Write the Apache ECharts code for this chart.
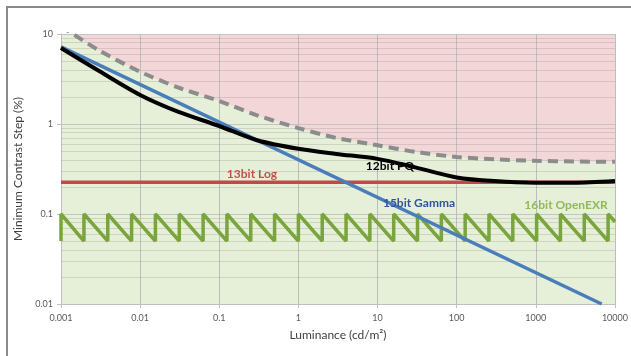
<!DOCTYPE html>
<html>
<head>
<meta charset="utf-8">
<script src="https://cdn.jsdelivr.net/npm/echarts@6/dist/echarts.min.js"></script>
<style>
html,body{margin:0;padding:0;background:#fff;}
#c{width:631px;height:356px;}
</style>
</head>
<body>
<div id="c"></div>
<script>
// ---- data ----
const xTickLabels = ['0.001','0.01','0.1','1','10','100','1000','10000'];
const yTickLabels = ['0.01','0.1','1','10'];
const yMinorLines = [0.02,0.03,0.04,0.05,0.06,0.07,0.08,0.09,0.2,0.3,0.4,0.5,0.6,0.7,0.8,0.9,2,3,4,5,6,7,8,9];

// dashed threshold curve (upper, gray)
const thresholdX = [0.001, 0.003, 0.01, 0.03, 0.1, 0.3, 1, 3, 10, 30, 100, 300, 1000, 3000, 10000];
const thresholdY = [12.2, 6.6, 3.8, 2.55, 1.8, 1.25, 0.9, 0.7, 0.58, 0.49, 0.43, 0.405, 0.39, 0.383, 0.38];

// 12bit PQ
const pqX = [0.001, 0.003, 0.01, 0.03, 0.1, 0.3, 1, 3, 10, 30, 100, 300, 1000, 3000, 10000];
const pqY = [7.0, 3.9, 2.1, 1.37, 0.95, 0.66, 0.53, 0.465, 0.41, 0.33, 0.255, 0.232, 0.223, 0.223, 0.233];

// 15bit Gamma (straight line on log-log)
const gammaX = [0.001, 6800];
const gammaY = [7.2, 0.01];

// 13bit Log (flat)
const logX = [0.001, 10000];
const logY = [0.225, 0.225];

// 16bit OpenEXR sawtooth: jump positions, top / bottom values, final partial value
const exrJumps = [0.001, 0.00195, 0.0039, 0.0078, 0.0156, 0.03125, 0.0625, 0.125, 0.25, 0.5, 1, 2, 4, 8, 16, 32, 64, 128, 256, 512, 1024, 2048, 4096, 8192];
const exrTop = 0.1;
const exrBottom = 0.05;
const exrEnd = [10000, 0.082];

// ---- build ----
function pairs(xs, ys){ return xs.map((x,i)=>[x, ys[i]]); }
const exrData = [];
exrJumps.forEach((x)=>{
  exrData.push([x, exrBottom]);
  exrData.push([x, exrTop]);
});
exrData.push(exrEnd);

const font = 'Lato, "Open Sans", sans-serif';
const chart = echarts.init(document.getElementById('c'), null, {renderer:'canvas'});

function xFmt(v){ const i = Math.round(Math.log10(v)) + 3; return xTickLabels[i] || ''; }
function yFmt(v){ const i = Math.round(Math.log10(v)) + 2; return yTickLabels[i] || ''; }

const option = {
  animation:false,
  backgroundColor:'#ffffff',
  grid:{left:61, right:14, top:34, bottom:52, show:true, backgroundColor:'#e6efd8', borderWidth:0},
  xAxis:{
    type:'log', logBase:10, min:0.001, max:10000, z:3,
    axisLine:{show:true, lineStyle:{color:'#bfbfbf', width:1}},
    axisTick:{show:true, length:4, lineStyle:{color:'#bfbfbf'}},
    axisLabel:{formatter:xFmt, color:'#595959', fontSize:9, fontFamily:font, margin:10},
    splitLine:{show:true, lineStyle:{color:'#bdbdbd', width:1}},
    name:'Luminance (cd/m²)', nameLocation:'middle', nameGap:25,
    nameTextStyle:{color:'#404040', fontSize:12, fontFamily:font}
  },
  yAxis:{
    type:'log', logBase:10, min:0.01, max:10, z:3,
    axisLine:{show:true, lineStyle:{color:'#bfbfbf', width:1}},
    axisTick:{show:true, length:4, lineStyle:{color:'#bfbfbf'}},
    axisLabel:{formatter:yFmt, color:'#595959', fontSize:9, fontFamily:font, margin:8},
    splitLine:{show:true, lineStyle:{color:'#c4c4c4', width:1}},
    name:'Minimum Contrast Step (%)', nameLocation:'middle', nameGap:31, nameRotate:90,
    nameTextStyle:{color:'#404040', fontSize:12, fontFamily:font}
  },
  series:[
    { // pink region above threshold
      type:'line', data:pairs(thresholdX, thresholdY), z:1, silent:true,
      symbol:'none', smooth:0.25, lineStyle:{opacity:0, width:0},
      areaStyle:{color:'#f2d6d8', opacity:1, origin:'end'}
    },
    { // minor horizontal gridlines
      type:'line', data:[], z:2, silent:true,
      markLine:{silent:true, symbol:['none','none'], label:{show:false},
        lineStyle:{color:'rgba(120,120,120,0.22)', width:1, type:'solid'},
        data: yMinorLines.map(v=>({yAxis:v}))}
    },
    { type:'line', name:'threshold', data:pairs(thresholdX, thresholdY), z:5, symbol:'none', smooth:0.25,
      lineStyle:{color:'#8c8c8c', width:4, type:[10,6]} },
    { type:'line', name:'16bit OpenEXR', data:exrData, z:6, symbol:'none',
      lineStyle:{color:'#7aa43c', width:3.5} },
    { type:'line', name:'13bit Log', data:pairs(logX, logY), z:7, symbol:'none',
      lineStyle:{color:'#be4b48', width:3.5} },
    { type:'line', name:'15bit Gamma', data:pairs(gammaX, gammaY), z:8, symbol:'none',
      lineStyle:{color:'#4a7ebb', width:3.5} },
    { type:'line', name:'12bit PQ', data:pairs(pqX, pqY), z:9, symbol:'none', smooth:0.3,
      lineStyle:{color:'#000000', width:4} }
  ],
  graphic:[
    {type:'rect', shape:{x:7, y:7, width:700, height:400}, style:{fill:'none', stroke:'#8a8a8a', lineWidth:2}, z:100, silent:true},
    {type:'text', x:390, y:166, style:{text:'12bit PQ', fill:'#000000', font:'bold 12px '+font, textAlign:'center', textVerticalAlign:'middle'}, z:100},
    {type:'text', x:252, y:174, style:{text:'13bit Log', fill:'#c0504d', font:'bold 12px '+font, textAlign:'center', textVerticalAlign:'middle'}, z:100},
    {type:'text', x:419, y:203, style:{text:'15bit Gamma', fill:'#2f5597', font:'bold 12px '+font, textAlign:'center', textVerticalAlign:'middle'}, z:100},
    {type:'text', x:566, y:205, style:{text:'16bit OpenEXR', fill:'#92b957', font:'bold 12px '+font, textAlign:'center', textVerticalAlign:'middle'}, z:100}
  ]
};
chart.setOption(option);
</script>
</body>
</html>
